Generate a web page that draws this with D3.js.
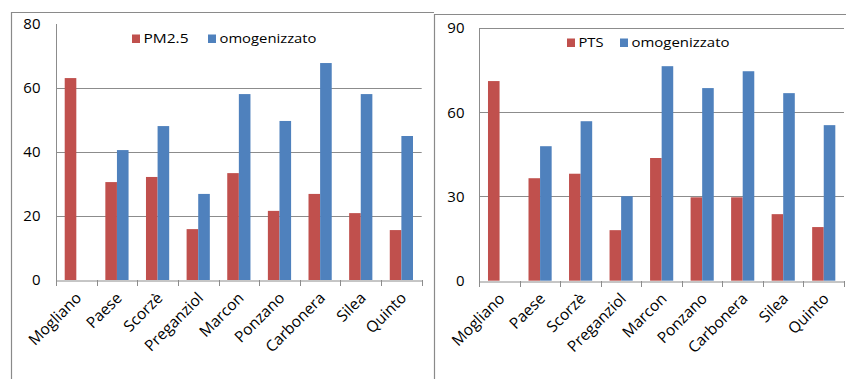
<!DOCTYPE html>
<html>
<head>
<meta charset="utf-8">
<script src="https://cdn.jsdelivr.net/npm/d3@7"></script>
<style>
  html, body { margin: 0; padding: 0; background: #fff; }
  svg { display: block; }
  text { font-family: "Open Sans", "Liberation Sans", sans-serif; fill: #000; }
</style>
</head>
<body>
<svg id="chart" width="846" height="379"></svg>
<script>
// Comuni (stazioni di misura)
const comuni = ["Mogliano", "Paese", "Scorzè", "Preganziol", "Marcon", "Ponzano", "Carbonera", "Silea", "Quinto"];

// PM2.5 misurato e valore omogenizzato
const pm25 = [63.1, 30.6, 32.2, 15.9, 33.4, 21.6, 26.9, 20.9, 15.6];
const pm25Omog = [null, 40.6, 48.1, 26.9, 58.1, 49.7, 67.8, 58.1, 45.0];
const pm25Ticks = [0, 20, 40, 60, 80];

// PTS misurato e valore omogenizzato
const pts = [71.1, 36.5, 38.1, 18.0, 43.7, 29.7, 29.7, 23.7, 19.1];
const ptsOmog = [null, 47.9, 56.8, 30.1, 76.4, 68.6, 74.6, 66.8, 55.4];
const ptsTicks = [0, 30, 60, 90];

const RED = "#C0504D", BLUE = "#4F81BD", GRID = "#8c8c8c", FRAME = "#8a8a8a";

const svg = d3.select("#chart");

function drawPanel(cfg) {
  const g = svg.append("g");

  // cornice del grafico
  g.append("path")
    .attr("d", `M${cfg.frame.x},379 V${cfg.frame.y} H${cfg.frame.x2}`)
    .attr("fill", "none").attr("stroke", FRAME).attr("stroke-width", 1.2);

  const x = d3.scaleBand().domain(comuni).range([cfg.left, cfg.right]).paddingInner(0).paddingOuter(0);
  const y = d3.scaleLinear().domain([0, cfg.max]).range([cfg.bottom, cfg.top]);

  // griglia orizzontale
  g.append("g").selectAll("line")
    .data(cfg.ticks.filter(t => t > 0 && (cfg.topGrid || t < cfg.max)))
    .join("line")
    .attr("x1", cfg.left).attr("x2", cfg.right)
    .attr("y1", d => Math.round(y(d)) + 0.5).attr("y2", d => Math.round(y(d)) + 0.5)
    .attr("stroke", GRID).attr("stroke-width", 1);

  // barre (distanza tra gruppi 150%)
  const gapRatio = 1.5;
  const barW = x.bandwidth() / (2 + gapRatio);
  const off = barW * gapRatio / 2;
  const series = [
    { vals: cfg.measured, color: RED, shift: 0 },
    { vals: cfg.omog, color: BLUE, shift: 1 }
  ];
  series.forEach(s => {
    g.append("g").selectAll("rect")
      .data(comuni.map((c, i) => ({ c, v: s.vals[i] })).filter(d => d.v != null))
      .join("rect")
      .attr("x", d => x(d.c) + off + s.shift * barW)
      .attr("width", barW)
      .attr("y", d => y(d.v))
      .attr("height", d => y(0) - y(d.v))
      .attr("fill", s.color);
  });

  // asse Y
  const yAxis = d3.axisLeft(y).tickValues(cfg.ticks).tickSize(0).tickPadding(cfg.yPad);
  const ya = g.append("g").attr("transform", `translate(${Math.round(cfg.left) + 0.5},0)`).call(yAxis);
  ya.select(".domain").remove();
  ya.selectAll("text").attr("font-size", 15).attr("font-family", "Open Sans, sans-serif").attr("fill", "#111");
  g.append("line")
    .attr("x1", Math.round(cfg.left) + 0.5).attr("x2", Math.round(cfg.left) + 0.5)
    .attr("y1", cfg.top).attr("y2", cfg.bottom + 6)
    .attr("stroke", GRID);

  // asse X
  const xAxis = d3.axisBottom(x).tickSize(0).tickFormat("");
  const xa = g.append("g").attr("transform", `translate(0,${Math.round(cfg.bottom) + 0.5})`).call(xAxis);
  xa.select(".domain").attr("stroke", GRID);
  // tacche di separazione tra le categorie
  const edges = comuni.map(c => x(c)).concat([x(comuni[comuni.length - 1]) + x.bandwidth()]);
  g.append("g").selectAll("line").data(edges).join("line")
    .attr("x1", d => Math.round(d) + 0.5).attr("x2", d => Math.round(d) + 0.5)
    .attr("y1", Math.round(cfg.bottom)).attr("y2", Math.round(cfg.bottom) + 6)
    .attr("stroke", GRID);

  // etichette ruotate
  g.append("g").selectAll("text").data(comuni).join("text")
    .attr("transform", d => `translate(${x(d) + x.bandwidth() / 2 + 6},${cfg.bottom + 19}) rotate(-45)`)
    .attr("text-anchor", "end")
    .attr("font-size", 15.5)
    .attr("fill", "#111")
    .text(d => d);

  // legenda
  const lg = g.append("g");
  cfg.legend.forEach(l => {
    lg.append("rect").attr("x", l.x).attr("y", l.y - 8.5).attr("width", 8).attr("height", 8.5).attr("fill", l.color);
    lg.append("text").attr("x", l.x + 11.5).attr("y", l.y)
      .attr("font-size", 13)
      .attr("textLength", l.w).attr("lengthAdjust", "spacingAndGlyphs")
      .attr("fill", "#111").text(l.label);
  });
}

drawPanel({
  frame: { x: 11.5, y: 12.5, x2: 434 },
  left: 56, right: 421.7, top: 24, bottom: 280, max: 80, topGrid: false,
  ticks: pm25Ticks, yPad: 16,
  measured: pm25, omog: pm25Omog,
  legend: [
    { x: 132, y: 43, w: 45, color: RED, label: "PM2.5" },
    { x: 208, y: 43, w: 97, color: BLUE, label: "omogenizzato" }
  ]
});

drawPanel({
  frame: { x: 434.5, y: 14.5, x2: 846 },
  left: 479.3, right: 844, top: 28, bottom: 280.7, max: 90, topGrid: true,
  ticks: ptsTicks, yPad: 15,
  measured: pts, omog: ptsOmog,
  legend: [
    { x: 567, y: 47, w: 25, color: RED, label: "PTS" },
    { x: 620, y: 47, w: 98, color: BLUE, label: "omogenizzato" }
  ]
});
</script>
</body>
</html>
